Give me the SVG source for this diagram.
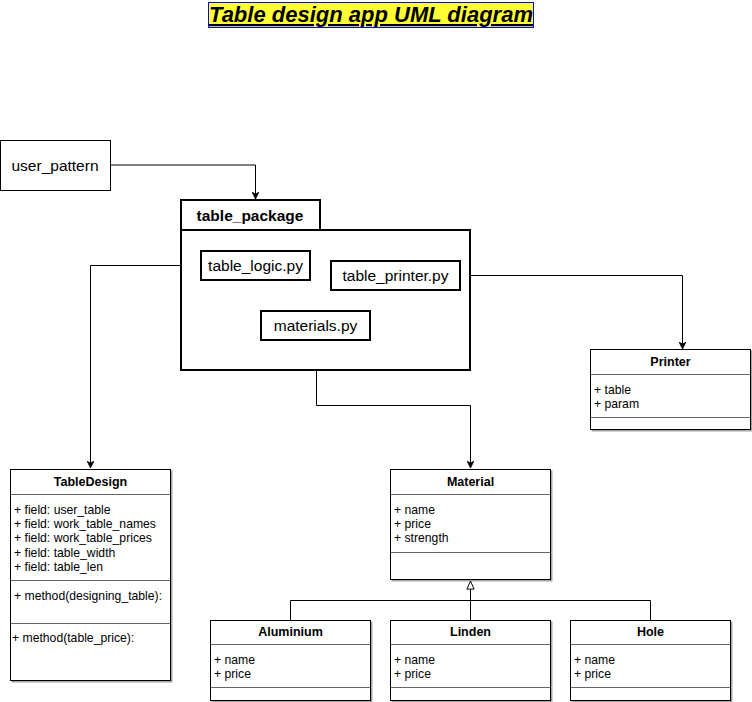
<svg xmlns="http://www.w3.org/2000/svg" width="752" height="702" viewBox="0 0 752 702">
<defs>
<marker id="arr" viewBox="0 0 10 10" refX="10" refY="5" markerWidth="7" markerHeight="7" markerUnits="userSpaceOnUse" orient="auto">
<path d="M0,0 L10,5 L0,10 L3,5 Z" fill="#000" stroke="#000" stroke-width="1"/>
</marker>
<marker id="tri" viewBox="0 0 10 10" refX="10" refY="5" markerWidth="9" markerHeight="9" markerUnits="userSpaceOnUse" orient="auto">
<path d="M1,1 L10,5 L1,9 Z" fill="#fff" stroke="#000" stroke-width="1.1"/>
</marker>
<filter id="sh" x="-5%" y="-5%" width="115%" height="115%">
<feDropShadow dx="1.5" dy="1.5" stdDeviation="0.6" flood-color="#000" flood-opacity="0.35"/>
</filter>
</defs>
<style>
text{font-family:"Liberation Sans",Arial,sans-serif;fill:#000}
.big{font-size:15.5px}
.t{font-size:12.5px;font-weight:bold;text-anchor:middle}
.f{font-size:12.2px}
.box{fill:#fff;stroke:#000;stroke-width:1}
.box2{fill:#fff;stroke:#000;stroke-width:2}
.cls{fill:#fff;stroke:#000;stroke-width:1;filter:url(#sh)}
.ln{stroke:#000;stroke-width:1;fill:none}
.dv{stroke:#000;stroke-width:1;opacity:0.6}
</style>
<rect width="752" height="702" fill="#fff"/>

<g id="title">
<rect x="208.5" y="2.5" width="325" height="25" fill="#ffff33" stroke="#0000ff" stroke-width="1"/>
<text x="371" y="22" text-anchor="middle" font-size="22" font-weight="bold" font-style="italic" text-decoration="underline">Table design app UML diagram</text>
</g>

<g id="connectors">
<path class="ln" d="M110,165 H255.5 V199" marker-end="url(#arr)"/>
<path class="ln" d="M200,265.5 H90.5 V468" marker-end="url(#arr)"/>
<path class="ln" d="M460,275.5 H682.5 V349" marker-end="url(#arr)"/>
<path class="ln" d="M316.5,340 V405.5 H470.5 V468" marker-end="url(#arr)"/>
<path class="ln" d="M290.5,620 V600.5 H650.5 V620"/>
<path class="ln" d="M470.5,620 V581" marker-end="url(#tri)"/>
</g>

<g id="user_pattern">
<rect class="box" x="0.5" y="140.5" width="110" height="50"/>
<text class="big" x="55" y="170.5" text-anchor="middle">user_pattern</text>
</g>

<g id="table_package">
<rect class="box2" x="181" y="200" width="139" height="30"/>
<rect class="box2" x="181" y="230" width="289" height="140"/>
<text x="250" y="220.5" text-anchor="middle" font-size="15.5" font-weight="bold">table_package</text>
</g>

<g id="table_logic">
<rect class="box2" x="201" y="251" width="109" height="29"/>
<text class="big" x="255.5" y="271" text-anchor="middle">table_logic.py</text>
</g>

<g id="table_printer">
<rect class="box2" x="331" y="261" width="129" height="29"/>
<text class="big" x="395.5" y="281" text-anchor="middle">table_printer.py</text>
</g>

<g id="materials">
<rect class="box2" x="261" y="311" width="109" height="29"/>
<text class="big" x="315.5" y="331" text-anchor="middle">materials.py</text>
</g>

<g id="Printer">
<rect class="cls" x="590.5" y="349.5" width="160" height="80"/>
<line class="dv" x1="590.5" y1="374.5" x2="750.5" y2="374.5"/>
<line class="dv" x1="590.5" y1="417.5" x2="750.5" y2="417.5"/>
<text class="t" x="670.5" y="366">Printer</text>
<text class="f" x="594" y="394">+ table</text>
<text class="f" x="594" y="408">+ param</text>
</g>

<g id="TableDesign">
<rect class="cls" x="10.5" y="469.5" width="160" height="211"/>
<line class="dv" x1="10.5" y1="494.5" x2="170.5" y2="494.5"/>
<line class="dv" x1="10.5" y1="580.5" x2="170.5" y2="580.5"/>
<line class="dv" x1="10.5" y1="623.5" x2="170.5" y2="623.5"/>
<text class="t" x="90.5" y="486">TableDesign</text>
<text class="f" x="14" y="513.5">+ field: user_table</text>
<text class="f" x="14" y="527.9">+ field: work_table_names</text>
<text class="f" x="14" y="542.3">+ field: work_table_prices</text>
<text class="f" x="14" y="556.7">+ field: table_width</text>
<text class="f" x="14" y="571.1">+ field: table_len</text>
<text class="f" x="14" y="599.5">+ method(designing_table):</text>
<text class="f" x="12" y="642">+ method(table_price):</text>
</g>

<g id="Material">
<rect class="cls" x="390.5" y="469.5" width="160" height="110"/>
<line class="dv" x1="390.5" y1="494.5" x2="550.5" y2="494.5"/>
<line class="dv" x1="390.5" y1="552.5" x2="550.5" y2="552.5"/>
<text class="t" x="470.5" y="486">Material</text>
<text class="f" x="394" y="513.5">+ name</text>
<text class="f" x="394" y="527.9">+ price</text>
<text class="f" x="394" y="542.3">+ strength</text>
</g>

<g id="Aluminium">
<rect class="cls" x="210.5" y="620.5" width="160" height="80"/>
<line class="dv" x1="210.5" y1="644.5" x2="370.5" y2="644.5"/>
<line class="dv" x1="210.5" y1="687.5" x2="370.5" y2="687.5"/>
<text class="t" x="290.5" y="636">Aluminium</text>
<text class="f" x="214" y="664">+ name</text>
<text class="f" x="214" y="678">+ price</text>
</g>

<g id="Linden">
<rect class="cls" x="390.5" y="620.5" width="160" height="80"/>
<line class="dv" x1="390.5" y1="644.5" x2="550.5" y2="644.5"/>
<line class="dv" x1="390.5" y1="687.5" x2="550.5" y2="687.5"/>
<text class="t" x="470.5" y="636">Linden</text>
<text class="f" x="394" y="664">+ name</text>
<text class="f" x="394" y="678">+ price</text>
</g>

<g id="Hole">
<rect class="cls" x="570.5" y="620.5" width="160" height="80"/>
<line class="dv" x1="570.5" y1="644.5" x2="730.5" y2="644.5"/>
<line class="dv" x1="570.5" y1="687.5" x2="730.5" y2="687.5"/>
<text class="t" x="650.5" y="636">Hole</text>
<text class="f" x="574" y="664">+ name</text>
<text class="f" x="574" y="678">+ price</text>
</g>
</svg>
